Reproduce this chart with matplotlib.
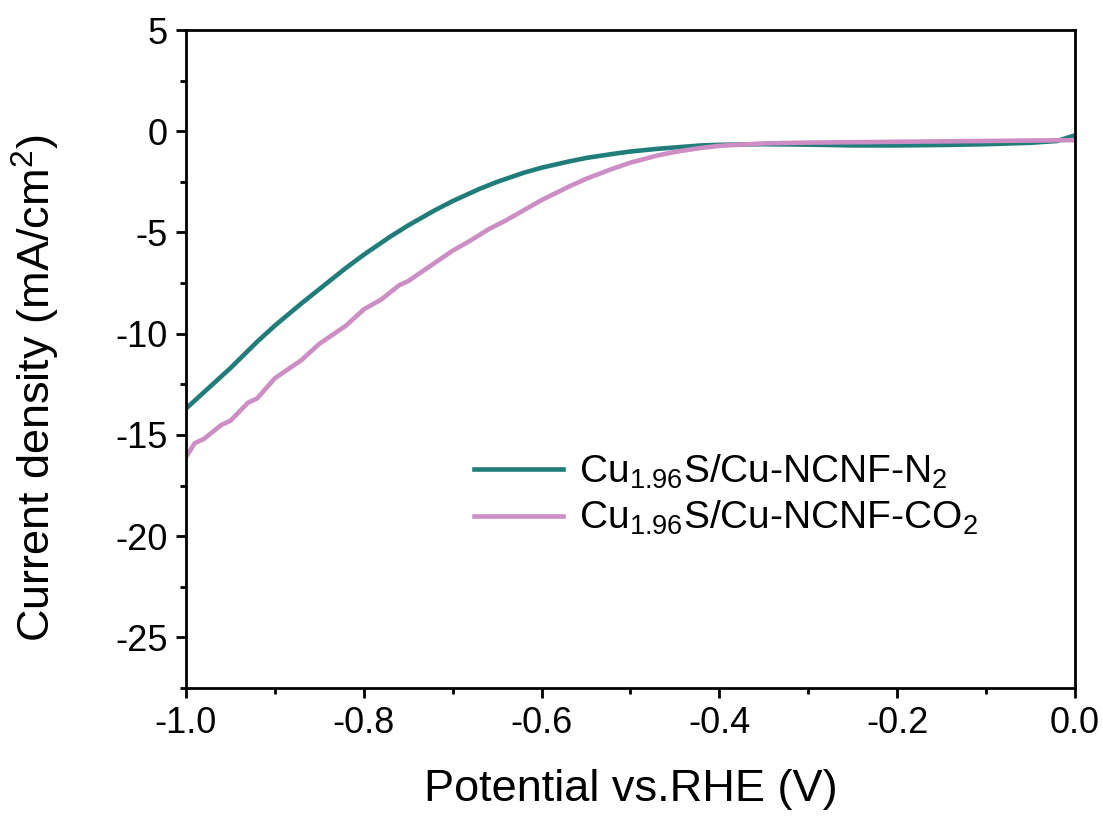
import numpy as np
import matplotlib
matplotlib.use('Agg')
import matplotlib.pyplot as plt
from matplotlib.ticker import MultipleLocator

# --- 폰트 설정 ---
plt.rcParams['font.family'] = ['Liberation Sans', 'DejaVu Sans']
plt.rcParams['mathtext.fontset'] = 'custom'
plt.rcParams['mathtext.rm'] = 'Liberation Sans'
plt.rcParams['mathtext.it'] = 'Liberation Sans:italic'
plt.rcParams['axes.unicode_minus'] = False

# --- 데이터 ---
potential_n2 = [-1.0, -0.98, -0.95, -0.92, -0.9, -0.87, -0.85, -0.82, -0.8, -0.77,
                -0.75, -0.72, -0.7, -0.67, -0.65, -0.62, -0.6, -0.57, -0.55, -0.52,
                -0.5, -0.47, -0.45, -0.42, -0.4, -0.35, -0.3, -0.25, -0.2, -0.15,
                -0.1, -0.05, -0.02, 0.0]
current_n2 = [-13.7, -12.9, -11.7, -10.4, -9.6, -8.5, -7.8, -6.75, -6.1, -5.2,
              -4.65, -3.9, -3.45, -2.85, -2.5, -2.05, -1.8, -1.5, -1.32, -1.12,
              -1.0, -0.87, -0.8, -0.7, -0.67, -0.64, -0.66, -0.7, -0.7, -0.68,
              -0.64, -0.57, -0.48, -0.2]

potential_co2 = [-1.0, -0.99, -0.98, -0.96, -0.95, -0.93, -0.92, -0.9, -0.88, -0.87,
                 -0.85, -0.83, -0.82, -0.8, -0.78, -0.76, -0.75, -0.73, -0.7, -0.68,
                 -0.66, -0.64, -0.62, -0.6, -0.57, -0.55, -0.52, -0.5, -0.47, -0.45,
                 -0.42, -0.4, -0.37, -0.35, -0.3, -0.25, -0.2, -0.15, -0.1, -0.05, 0.0]
current_co2 = [-16.1, -15.4, -15.2, -14.5, -14.3, -13.4, -13.2, -12.2, -11.6, -11.3,
               -10.5, -9.9, -9.6, -8.8, -8.3, -7.6, -7.4, -6.8, -5.9, -5.4,
               -4.85, -4.4, -3.9, -3.4, -2.75, -2.35, -1.85, -1.55, -1.2, -1.02,
               -0.82, -0.72, -0.65, -0.6, -0.56, -0.54, -0.52, -0.5, -0.48, -0.46, -0.44]

labels = [r'Cu$_{1.96}$S/Cu-NCNF-N$_2$', r'Cu$_{1.96}$S/Cu-NCNF-CO$_2$']
colors = ['#1f7e7a', '#cc8ec4']

# --- 시각화 ---
fig = plt.figure(figsize=(11.03, 8.18), dpi=100)
ax = fig.add_axes([0.1686, 0.1589, 0.806, 0.8044])

ax.plot(potential_n2, current_n2, color=colors[0], lw=3.3, label=labels[0])
ax.plot(potential_co2, current_co2, color=colors[1], lw=3.3, label=labels[1])

ax.set_xlim(-1.0, 0.0)
ax.set_ylim(-27.5, 5)
ax.xaxis.set_major_locator(MultipleLocator(0.2))
ax.xaxis.set_minor_locator(MultipleLocator(0.1))
ax.yaxis.set_major_locator(MultipleLocator(5))
ax.yaxis.set_minor_locator(MultipleLocator(2.5))
ax.xaxis.set_major_formatter(plt.FuncFormatter(lambda v, p: f"{v:.1f}"))

for s in ax.spines.values():
    s.set_linewidth(2.0)
ax.tick_params(which='both', direction='out', top=False, right=False, width=2.0)
ax.tick_params(which='major', length=7, labelsize=26, pad=6)
ax.tick_params(which='minor', length=4)

ax.set_xlabel('Potential vs.RHE (V)', fontsize=32.5, labelpad=20)
ax.set_ylabel('Current density (mA/cm$^2$)', fontsize=32.5)
# 세로축 제목 위치 (원본처럼 약간 아래쪽, 왼쪽으로)
ax.yaxis.set_label_coords(-0.14, 0.456)

ax.legend(loc='center left', bbox_to_anchor=(0.324, 0.293), frameon=False,
          fontsize=28, handlelength=2.3, handletextpad=0.4, borderpad=0,
          borderaxespad=0, labelspacing=0.2)

plt.savefig('out.png', dpi=100)
plt.close(fig)
